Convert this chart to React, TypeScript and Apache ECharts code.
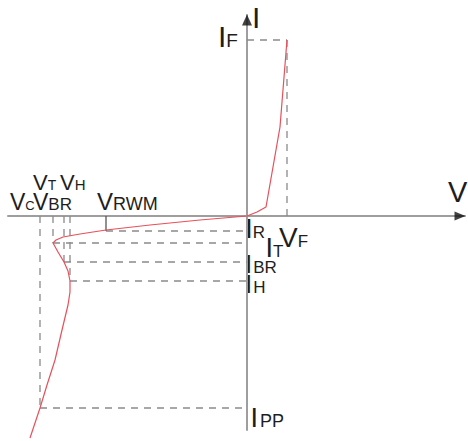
import React, { useEffect, useRef } from "react";
import * as echarts from "echarts";

// Axis extents (arbitrary schematic units)
const X_MIN = -23.9;
const X_MAX = 21.8;
const Y_MIN = -21.4;
const Y_MAX = 20.1;

// Characteristic voltages
const V_C = -20.7;
const V_T = -19.4;
const V_BR = -18.3;
const V_H = -17.7;
const V_RWM = -14.1;
const V_F = 4.0;

// Characteristic currents
const I_F = 17.6;
const I_R = -1.5;
const I_T = -2.7;
const I_BR = -4.6;
const I_H = -6.5;
const I_PP = -19.2;

// I-V curve (from reverse end to forward end)
const curveV = [-21.7, -20.7, -20.0, -19.2, -18.5, -17.9, -17.7, -17.7, -17.9, -18.3, -18.9, -19.4, -19.1, -18.4, -16.7, -14.1, -9.7, -4.7, 0, 1.0, 1.9, 3.3, 4.0];
const curveI = [-22.2, -19.2, -16.9, -14.4, -11.4, -8.9, -7.6, -6.5, -5.5, -4.6, -3.6, -2.7, -2.4, -2.1, -1.8, -1.4, -0.9, -0.4, 0, 0.4, 0.9, 8.9, 17.6];

// Guide segments [x1, y1, x2, y2]
const dashedGuides = [
  [V_C, 0, V_C, I_PP],
  [V_C, I_PP, 0, I_PP],
  [V_T, 0, V_T, I_T],
  [V_T, I_T, 0, I_T],
  [V_BR, 0, V_BR, I_BR],
  [V_BR, I_BR, 0, I_BR],
  [V_H, 0, V_H, I_H],
  [V_H, I_H, 0, I_H],
  [V_RWM, I_R, 0, I_R],
  [0, I_F, V_F, I_F],
  [V_F, I_F, V_F, 0],
];
const solidGuides = [[V_RWM, 0, V_RWM, I_R]];

// Label layout: anchor in data units, offsets in px (text left / baseline)
const LABELS = [
  { main: "I", sub: "", at: [0, Y_MAX], dx: 5, dy: 13, size: 30, subSize: 0, gap: 0 },
  { main: "V", sub: "", at: [X_MAX, 0], dx: -17, dy: -14, size: 29, subSize: 0, gap: 0 },
  { main: "I", sub: "F", at: [0, I_F], dx: -29, dy: 7, size: 30, subSize: 19, gap: 0 },
  { main: "I", sub: "R", at: [0, I_R], dx: -2, dy: 7, size: 28, subSize: 17, gap: 0 },
  { main: "I", sub: "T", at: [0, I_T], dx: 18.5, dy: 14, size: 27, subSize: 17, gap: 0 },
  { main: "V", sub: "F", at: [V_F, 0], dx: -8, dy: 31, size: 28, subSize: 17, gap: 0 },
  { main: "I", sub: "BR", at: [0, I_BR], dx: -2, dy: 11, size: 26, subSize: 17, gap: 1 },
  { main: "I", sub: "H", at: [0, I_H], dx: -2, dy: 12, size: 26, subSize: 17, gap: 1 },
  { main: "I", sub: "PP", at: [0, I_PP], dx: 3.5, dy: 19, size: 27, subSize: 18, gap: 2 },
  { main: "V", sub: "T", at: [V_T, 0], dx: -20, dy: -26, size: 22, subSize: 14, gap: 0 },
  { main: "V", sub: "H", at: [V_H, 0], dx: -10, dy: -26, size: 22, subSize: 15, gap: 0 },
  { main: "V", sub: "C", at: [V_C, 0], dx: -30, dy: -6, size: 23, subSize: 13, gap: 0 },
  { main: "V", sub: "BR", at: [V_BR, 0], dx: -31, dy: -6, size: 23, subSize: 17, gap: 0 },
  { main: "V", sub: "RWM", at: [V_RWM, 0], dx: -9, dy: -6, size: 24, subSize: 18, gap: 0 },
];

const ADVANCE: Record<string, number> = { I: 0.278, V: 0.667 };
const FONT = '"Liberation Sans", Arial, sans-serif';
const TEXT_COLOR = "#1e1e1e";
const ARROW_OFFSET = 0.5;

export default function App() {
  const ref = useRef<HTMLDivElement>(null);

  useEffect(() => {
    document.body.style.margin = "0";
    if (!ref.current) return;
    const chart = echarts.init(ref.current, null, { renderer: "svg" });

    const curveData = curveV.map((v, i) => [v, curveI[i]]);

    const guideSeries: any[] = [
      ...dashedGuides.map((g) => ({
        type: "line",
        data: [
          [g[0], g[1]],
          [g[2], g[3]],
        ],
        symbol: "none",
        clip: false,
        z: 2,
        lineStyle: { color: "#8a8a8a", width: 1.3, type: [7, 6] },
      })),
      ...solidGuides.map((g) => ({
        type: "line",
        data: [
          [g[0], g[1]],
          [g[2], g[3]],
        ],
        symbol: "none",
        clip: false,
        z: 2,
        lineStyle: { color: "#555555", width: 1.3 },
      })),
    ];

    chart.setOption({
      animation: false,
      grid: { left: 8, right: 3, top: 15, bottom: 11 },
      xAxis: {
        type: "value",
        min: X_MIN,
        max: X_MAX,
        axisLine: { onZero: true, lineStyle: { color: "#9e9e9e", width: 2 } },
        axisTick: { show: false },
        axisLabel: { show: false },
        splitLine: { show: false },
      },
      yAxis: {
        type: "value",
        min: Y_MIN,
        max: Y_MAX,
        axisLine: { onZero: true, lineStyle: { color: "#9e9e9e", width: 2 } },
        axisTick: { show: false },
        axisLabel: { show: false },
        splitLine: { show: false },
      },
      series: [
        ...guideSeries,
        {
          type: "line",
          data: curveData,
          symbol: "none",
          clip: false,
          z: 3,
          lineStyle: { color: "#e8505a", width: 1.2 },
        },
        {
          type: "scatter",
          data: [[0, Y_MAX - ARROW_OFFSET]],
          symbol: "triangle",
          symbolSize: [10, 11],
          clip: false,
          z: 4,
          itemStyle: { color: "#111111" },
        },
        {
          type: "scatter",
          data: [[X_MAX - ARROW_OFFSET, 0]],
          symbol: "triangle",
          symbolSize: [9, 11],
          symbolRotate: -90,
          clip: false,
          z: 4,
          itemStyle: { color: "#111111" },
        },
      ],
    });

    const elements: any[] = [];
    LABELS.forEach((l) => {
      const p = chart.convertToPixel({ gridIndex: 0 }, l.at) as number[];
      const x = p[0] + l.dx;
      const base = p[1] + l.dy;
      elements.push({
        type: "text",
        x,
        y: base - 0.35 * l.size,
        style: {
          text: l.main,
          fontSize: l.size,
          fontFamily: FONT,
          fill: TEXT_COLOR,
          align: "left",
          verticalAlign: "middle",
        },
      });
      if (l.sub) {
        const sx = x + (ADVANCE[l.main] || 0.6) * l.size + l.gap;
        elements.push({
          type: "text",
          x: sx,
          y: base - 0.35 * l.subSize,
          style: {
            text: l.sub,
            fontSize: l.subSize,
            fontFamily: FONT,
            fill: TEXT_COLOR,
            align: "left",
            verticalAlign: "middle",
          },
        });
      }
    });
    chart.setOption({ graphic: elements });

    return () => {
      chart.dispose();
    };
  }, []);

  return <div ref={ref} style={{ width: 468, height: 441 }} />;
}
